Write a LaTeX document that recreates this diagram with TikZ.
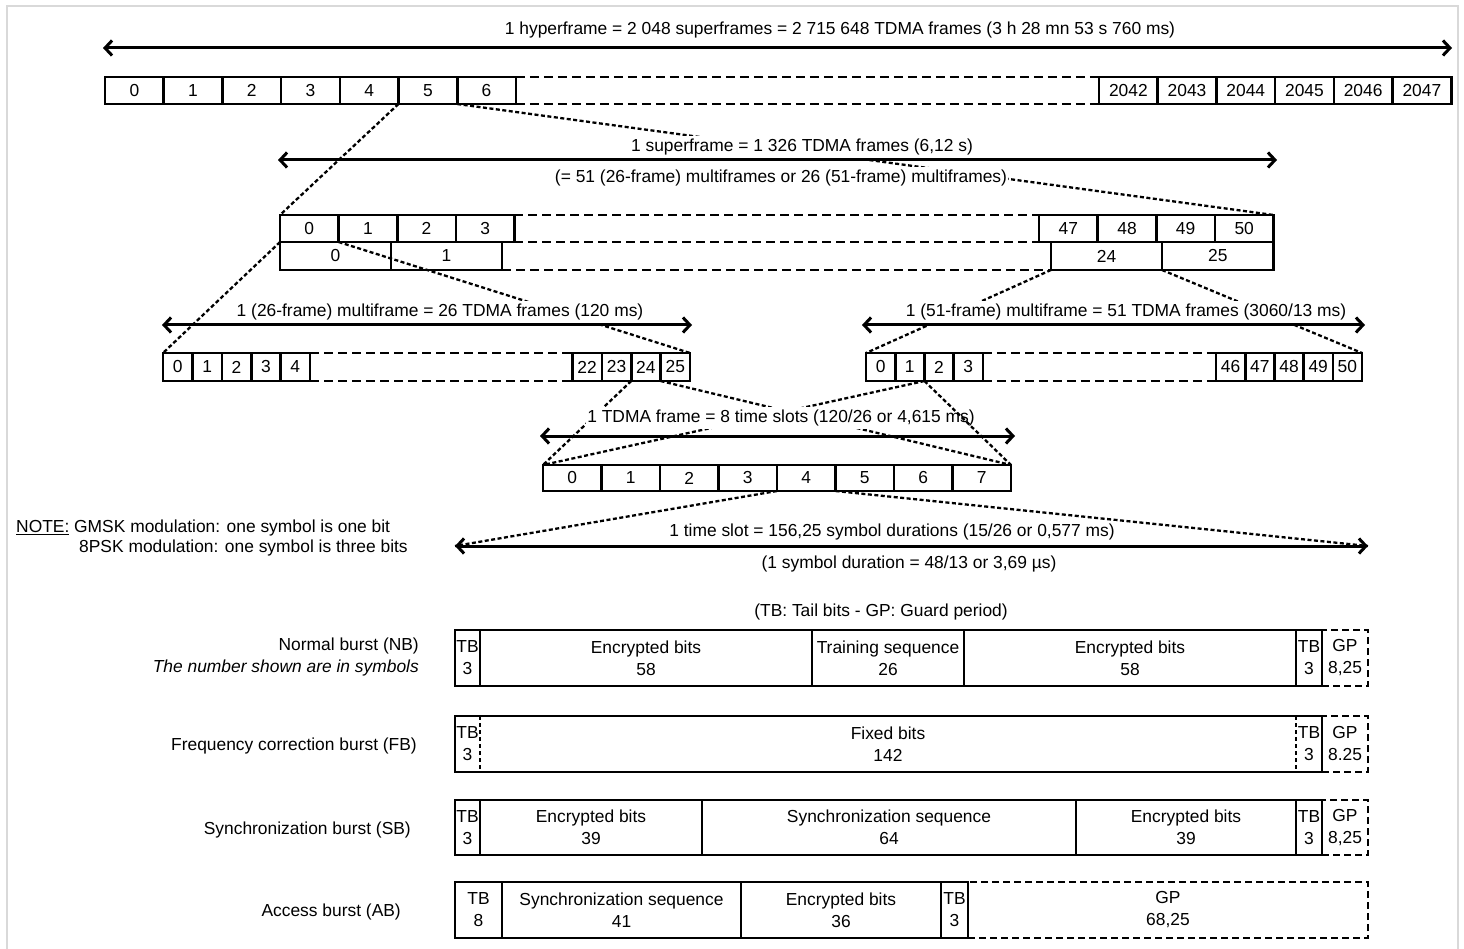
\documentclass[tikz,border=0pt]{standalone}
\usepackage{fontspec}
\setmainfont{Liberation Sans}
\usetikzlibrary{arrows.meta}
\tikzset{
  cell/.style={draw, line width=2.6pt, inner sep=0pt, outer sep=0pt, align=center},
  gpcell/.style={cell, dash pattern=on 7pt off 4pt},
  nocell/.style={cell, draw=none},
  rowdash/.style={line width=2.6pt, dash pattern=on 9pt off 5pt},
  zoomdash/.style={line width=2.3pt, dash pattern=on 4pt off 2.5pt},
  thindash/.style={line width=1.4pt, dash pattern=on 4pt off 3pt},
  dimarrow/.style={line width=3pt, {Straight Barb[length=7pt,width=15pt]}-{Straight Barb[length=7pt,width=15pt]}},
  lbl/.style={fill=white, inner xsep=1pt, inner ysep=2.5pt},
  side/.style={anchor=east, inner sep=0pt},
}
\newcommand\cellat[7][cell]{%
  \node[#1, minimum width={((#4)-(#3))*1pt}, minimum height={((#6)-(#5))*1pt}] (#2) at ({((#3)+(#4))/2},{((#5)+(#6))/2}) {#7};}
\begin{document}
\begin{tikzpicture}[x=1pt,y=-1pt,font=\fontsize{17.4}{22}\selectfont]
\useasboundingbox (0,0) rectangle (1464,949);
% outer frame
\draw[black!15, line width=2pt] (7,970) -- (7,6) -- (1458,6) -- (1458,970);

% ---------- cells ----------
% hyperframe
\foreach \i in {0,...,6} { \cellat{h\i}{105+58.7*\i}{163.7+58.7*\i}{77}{104}{\i} }
\foreach \i/\l in {0/2042,1/2043,2/2044,3/2045,4/2046,5/2047} { \cellat{h\l}{1099+58.7*\i}{1157.7+58.7*\i}{77}{104}{\l} }
% superframe
\foreach \i in {0,...,3} { \cellat{s\i}{280+58.6*\i}{338.6+58.6*\i}{215}{242}{\i} }
\foreach \i/\l in {0/47,1/48,2/49,3/50} { \cellat{s\l}{1039.1+58.6*\i}{1097.7+58.6*\i}{215}{242}{\l} }
\cellat{m0}{280}{391}{242}{270}{0}
\cellat{m1}{391}{502}{242}{270}{1}
\cellat{m24}{1051}{1162}{242}{270}{24}
\cellat{m25}{1162}{1273.5}{242}{270}{25}
% 26-frame multiframe
\foreach \i in {0,...,4} { \cellat{a\i}{163+29.4*\i}{192.4+29.4*\i}{353}{381}{\i} }
\foreach \i/\l in {0/22,1/23,2/24,3/25} { \cellat{a\l}{572.4+29.4*\i}{601.8+29.4*\i}{353}{381}{\l} }
% 51-frame multiframe
\foreach \i in {0,...,3} { \cellat{b\i}{866+29.2*\i}{895.2+29.2*\i}{353}{381}{\i} }
\foreach \i/\l in {0/46,1/47,2/48,3/49,4/50} { \cellat{b\l}{1216+29.2*\i}{1245.2+29.2*\i}{353}{381}{\l} }
% TDMA frame
\foreach \i in {0,...,7} { \cellat{t\i}{543+58.5*\i}{601.5+58.5*\i}{465}{491}{\i} }

% dashed continuation of rows
\draw[rowdash] (h6.north east) -- (h2042.north west);
\draw[rowdash] (h6.south east) -- (h2042.south west);
\draw[rowdash] (s3.north east) -- (s47.north west);
\draw[rowdash] (s3.south east) -- (s47.south west);
\draw[rowdash] (m1.south east) -- (m24.south west);
\draw[rowdash] (a4.north east) -- (a22.north west);
\draw[rowdash] (a4.south east) -- (a22.south west);
\draw[rowdash] (b3.north east) -- (b46.north west);
\draw[rowdash] (b3.south east) -- (b46.south west);

% ---------- zoom lines ----------
\coordinate (slotL) at (455,546);
\coordinate (slotR) at (1368,546);
\draw[zoomdash] (h5.south west) -- (s0.north west);
\draw[zoomdash] (h5.south east) -- (s50.north east);
\draw[zoomdash] (s0.south west) -- (a0.north west);
\draw[zoomdash] (s0.south east) -- (a25.north east);
\draw[zoomdash] (m24.south west) -- (b0.north west);
\draw[zoomdash] (m25.south west) -- (b50.north east);
\draw[zoomdash] (a24.south west) -- (t0.north west);
\draw[zoomdash] (a25.south west) -- (t7.north east);
\draw[zoomdash] (b1.south east) -- (t0.north west);
\draw[zoomdash] (t4.south west) -- (slotL);
\draw[zoomdash] (t4.south east) -- (slotR);

% ---------- labels ----------
\node[lbl] (thyp) at (840,30) {1 hyperframe = 2 048 superframes = 2 715 648 TDMA frames (3 h 28 mn 53 s 760 ms)};
\node[lbl] (tsup1) at (802,147) {1 superframe = 1 326 TDMA frames (6,12 s)};
\node[lbl] (tsup2) at (781,178) {(= 51 (26-frame) multiframes or 26 (51-frame) multiframes)};
\node[lbl] (t26) at (440,312) {1 (26-frame) multiframe = 26 TDMA frames (120 ms)};
\node[lbl] (t51) at (1126,312) {1 (51-frame) multiframe = 51 TDMA frames (3060/13 ms)};
\node[lbl] (ttdma) at (781,418) {1 TDMA frame = 8 time slots (120/26 or 4,615 ms)};
\node[lbl] (tslot1) at (892,532) {1 time slot = 156,25 symbol durations (15/26 or 0,577 ms)};
\node[lbl] (tslot2) at (909,564) {(1 symbol duration = 48/13 or 3,69 µs)};
\node[lbl] (ttb) at (881,612) {(TB: Tail bits - GP: Guard period)};
\draw[zoomdash] (b1.south east) -- (t7.north east);

% ---------- dimension arrows ----------
\coordinate (hypL) at (103,48);  \coordinate (hypR) at (1452,48);
\coordinate (supL) at (278,160); \coordinate (supR) at (1277,160);
\coordinate (m26L) at (162,325); \coordinate (m26R) at (692,325);
\coordinate (m51L) at (862,325); \coordinate (m51R) at (1365,325);
\coordinate (tdL) at (540,436);  \coordinate (tdR) at (1015,436);
\draw[dimarrow] (hypL) -- (hypR);
\draw[dimarrow] (supL) -- (supR);
\draw[dimarrow] (m26L) -- (m26R);
\draw[dimarrow] (m51L) -- (m51R);
\draw[dimarrow] (tdL) -- (tdR);
\draw[dimarrow] (slotL) -- (slotR);

% ---------- note ----------
\node[anchor=west, inner sep=0pt] (note1) at (16,528) {\underline{NOTE:} GMSK modulation: one symbol is one bit};
\node[anchor=west, inner sep=0pt] (note2) at (79,548) {8PSK modulation: one symbol is three bits};

% ---------- bursts ----------
\node[side] (lnb) at (419,646) {Normal burst (NB)};
\node[side] (lnb2) at (419,668) {\itshape The number shown are in symbols};
\node[side] (lfb) at (417,746) {Frequency correction burst (FB)};
\node[side] (lsb) at (411,830) {Synchronization burst (SB)};
\node[side] (lab) at (401,912) {Access burst (AB)};

% Normal burst
\cellat{nb1}{455}{480}{630}{686}{TB\\3}
\cellat{nb2}{480}{812}{630}{686}{Encrypted bits\\58}
\cellat{nb3}{812}{964}{630}{686}{Training sequence\\26}
\cellat{nb4}{964}{1296}{630}{686}{Encrypted bits\\58}
\cellat{nb5}{1296}{1322}{630}{686}{TB\\3}
\cellat[gpcell]{nb6}{1322}{1368}{630}{686}{GP\\8,25}

% Frequency correction burst
\cellat[nocell]{fb1}{455}{480}{716}{772}{TB\\3}
\cellat[nocell]{fb2}{480}{1296}{716}{772}{Fixed bits\\142}
\cellat[nocell]{fb3}{1296}{1322}{716}{772}{TB\\3}
\cellat[gpcell]{fb4}{1322}{1368}{716}{772}{GP\\8.25}
\draw[line width=2.6pt] (fb1.north west) -- (fb3.north east) -- (fb3.south east) -- (fb1.south west) -- cycle;
\draw[thindash] (fb1.north east) -- (fb1.south east);
\draw[thindash] (fb3.north west) -- (fb3.south west);

% Synchronization burst
\cellat{sb1}{455}{480}{800}{855}{TB\\3}
\cellat{sb2}{480}{702}{800}{855}{Encrypted bits\\39}
\cellat{sb3}{702}{1076}{800}{855}{Synchronization sequence\\64}
\cellat{sb4}{1076}{1296}{800}{855}{Encrypted bits\\39}
\cellat{sb5}{1296}{1322}{800}{855}{TB\\3}
\cellat[gpcell]{sb6}{1322}{1368}{800}{855}{GP\\8,25}

% Access burst
\cellat{ab1}{455}{502}{882}{938}{TB\\8}
\cellat{ab2}{502}{741}{882}{938}{Synchronization sequence\\41}
\cellat{ab3}{741}{941}{882}{938}{Encrypted bits\\36}
\cellat{ab4}{941}{968}{882}{938}{TB\\3}
\cellat[gpcell]{ab5}{968}{1368}{882}{938}{GP\\68,25}
\end{tikzpicture}
\end{document}
